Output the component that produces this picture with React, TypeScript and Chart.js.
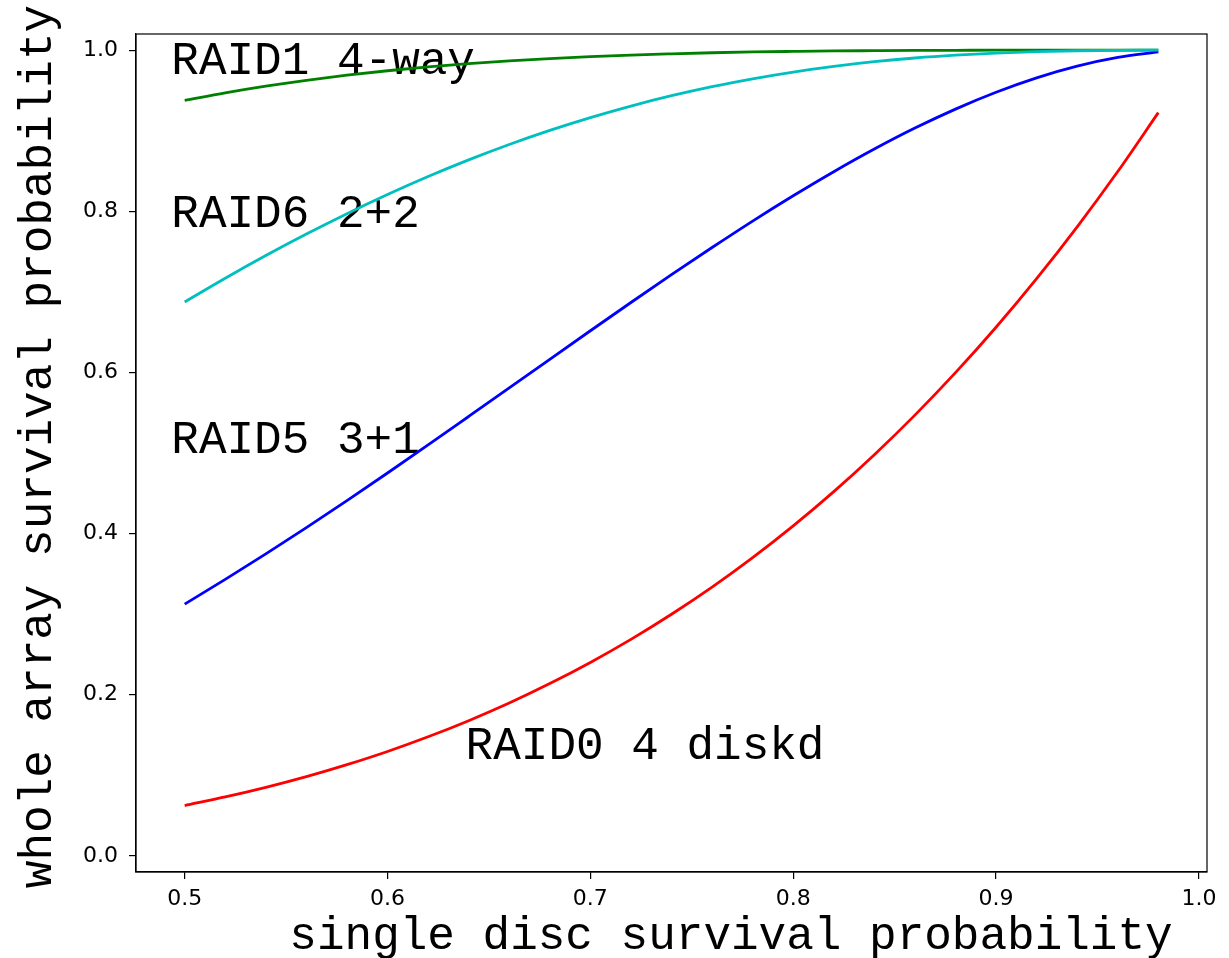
import React, { useEffect, useRef } from "react";
import { Chart, registerables } from "chart.js";

Chart.register(...registerables);

// single disc survival probability (x)
const discP = [
  0.5, 0.52, 0.54, 0.56, 0.58, 0.6, 0.62, 0.64, 0.66, 0.68, 0.7, 0.72, 0.74,
  0.76, 0.78, 0.8, 0.82, 0.84, 0.86, 0.88, 0.9, 0.92, 0.94, 0.96, 0.98,
];
// whole array survival probability per layout
const raid0 = [
  0.0625, 0.0731, 0.085, 0.0983, 0.1132, 0.1296, 0.1478, 0.1678, 0.1897,
  0.2138, 0.2401, 0.2687, 0.2999, 0.3336, 0.3702, 0.4096, 0.4521, 0.4979,
  0.547, 0.5997, 0.6561, 0.7164, 0.7807, 0.8493, 0.9224,
];
const raid1 = [
  0.9375, 0.9469, 0.9552, 0.9625, 0.9689, 0.9744, 0.9791, 0.9832, 0.9866,
  0.9895, 0.9919, 0.9939, 0.9954, 0.9967, 0.9977, 0.9984, 0.999, 0.9993,
  0.9996, 0.9998, 0.9999, 1.0, 1.0, 1.0, 1.0,
];
const raid5 = [
  0.3125, 0.3431, 0.3748, 0.4074, 0.441, 0.4752, 0.51, 0.5453, 0.5807,
  0.6163, 0.6517, 0.6868, 0.7213, 0.755, 0.7878, 0.8192, 0.8491, 0.8772,
  0.9032, 0.9268, 0.9477, 0.9656, 0.9801, 0.9909, 0.9977,
];
const raid6 = [
  0.6875, 0.7169, 0.745, 0.7717, 0.797, 0.8208, 0.8431, 0.8638, 0.8829,
  0.9004, 0.9163, 0.9306, 0.9434, 0.9547, 0.9644, 0.9728, 0.9798, 0.9856,
  0.9902, 0.9937, 0.9963, 0.9981, 0.9992, 0.9998, 1.0,
];

const xTickValues = [0.5, 0.6, 0.7, 0.8, 0.9, 1.0];
const xTickLabels = ["0.5", "0.6", "0.7", "0.8", "0.9", "1.0"];
const yTickValues = [0.0, 0.2, 0.4, 0.6, 0.8, 1.0];
const yTickLabels = ["0.0", "0.2", "0.4", "0.6", "0.8", "1.0"];

const annotationTexts = ["RAID1 4-way", "RAID6 2+2", "RAID5 3+1", "RAID0 4 diskd"];
const annotationX = [0.4934, 0.4934, 0.4934, 0.6385];
const annotationY = [0.97, 0.78, 0.5, 0.12];

const xTitle = "single disc survival probability";
const yTitle = "whole array survival probability";

const MONO = '46px "Liberation Mono", "DejaVu Sans Mono", monospace';
const TICK_FONT_FAMILY = '"DejaVu Sans", sans-serif';

export default function App() {
  const canvasRef = useRef<HTMLCanvasElement | null>(null);

  useEffect(() => {
    document.body.style.margin = "0";
    const canvas = canvasRef.current;
    if (!canvas) return;

    const textPlugin = {
      id: "textPlugin",
      beforeDatasetsDraw(chart: any) {
        const ctx = chart.ctx;
        const xs = chart.scales.x;
        const ys = chart.scales.y;
        ctx.save();
        ctx.fillStyle = "#000";
        ctx.font = MONO;
        ctx.textAlign = "left";
        ctx.textBaseline = "alphabetic";
        annotationTexts.forEach((t, i) => {
          ctx.fillText(t, xs.getPixelForValue(annotationX[i]), ys.getPixelForValue(annotationY[i]));
        });
        ctx.restore();
      },
      afterDraw(chart: any) {
        const ctx = chart.ctx;
        const a = chart.chartArea;
        ctx.save();
        ctx.strokeStyle = "#000";
        ctx.lineWidth = 1.2;
        ctx.strokeRect(a.left, a.top, a.right - a.left, a.bottom - a.top);
        ctx.fillStyle = "#000";
        ctx.font = MONO;
        ctx.textAlign = "center";
        ctx.textBaseline = "alphabetic";
        ctx.fillText(xTitle, 731, 949);
        ctx.translate(51, 446.5);
        ctx.rotate(-Math.PI / 2);
        ctx.fillText(yTitle, 0, 0);
        ctx.restore();
      },
    };

    const mk = (label: string, ys: number[], color: string, order: number) => ({
      label,
      data: discP.map((x, i) => ({ x, y: ys[i] })),
      borderColor: color,
      backgroundColor: color,
      borderWidth: 2.8,
      pointRadius: 0,
      cubicInterpolationMode: "monotone" as const,
      fill: false,
      order,
    });

    const chart = new Chart(canvas, {
      type: "line",
      data: {
        datasets: [
          mk("RAID0 4 diskd", raid0, "#ff0000", 3),
          mk("RAID1 4-way", raid1, "#008000", 2),
          mk("RAID5 3+1", raid5, "#0000ff", 1),
          mk("RAID6 2+2", raid6, "#00bfbf", 0),
        ],
      },
      options: {
        responsive: false,
        animation: false,
        events: [],
        layout: { padding: { top: 34, right: 22, left: 0, bottom: 0 } },
        plugins: {
          legend: { display: false },
          tooltip: { enabled: false },
        },
        scales: {
          x: {
            type: "linear",
            min: 0.476,
            max: 1.004,
            afterFit: (scale: any) => {
              scale.height = 86;
            },
            afterBuildTicks: (scale: any) => {
              scale.ticks = xTickValues.map((v) => ({ value: v }));
            },
            ticks: {
              color: "#000",
              font: { family: TICK_FONT_FAMILY, size: 22 },
              padding: 7,
              maxRotation: 0,
              autoSkip: false,
              callback: (value: any) => {
                const i = xTickValues.findIndex((v) => Math.abs(v - Number(value)) < 1e-9);
                return i >= 0 ? xTickLabels[i] : "";
              },
            },
            grid: {
              display: true,
              drawOnChartArea: false,
              drawTicks: true,
              tickLength: 7,
              color: "#000",
              lineWidth: 1.2,
            },
            border: { display: true, color: "#000", width: 1.2 },
          },
          y: {
            type: "linear",
            min: -0.02,
            max: 1.02,
            afterFit: (scale: any) => {
              scale.width = 136;
            },
            afterBuildTicks: (scale: any) => {
              scale.ticks = yTickValues.map((v) => ({ value: v }));
            },
            ticks: {
              color: "#000",
              font: { family: TICK_FONT_FAMILY, size: 22 },
              padding: 11,
              autoSkip: false,
              callback: (value: any) => {
                const i = yTickValues.findIndex((v) => Math.abs(v - Number(value)) < 1e-9);
                return i >= 0 ? yTickLabels[i] : "";
              },
            },
            grid: {
              display: true,
              drawOnChartArea: false,
              drawTicks: true,
              tickLength: 7,
              color: "#000",
              lineWidth: 1.2,
            },
            border: { display: true, color: "#000", width: 1.2 },
          },
        },
      },
      plugins: [textPlugin],
    });

    return () => {
      chart.destroy();
    };
  }, []);

  return (
    <div style={{ width: 1229, height: 958, background: "#fff" }}>
      <canvas ref={canvasRef} width={1229} height={958} style={{ display: "block" }} />
    </div>
  );
}
